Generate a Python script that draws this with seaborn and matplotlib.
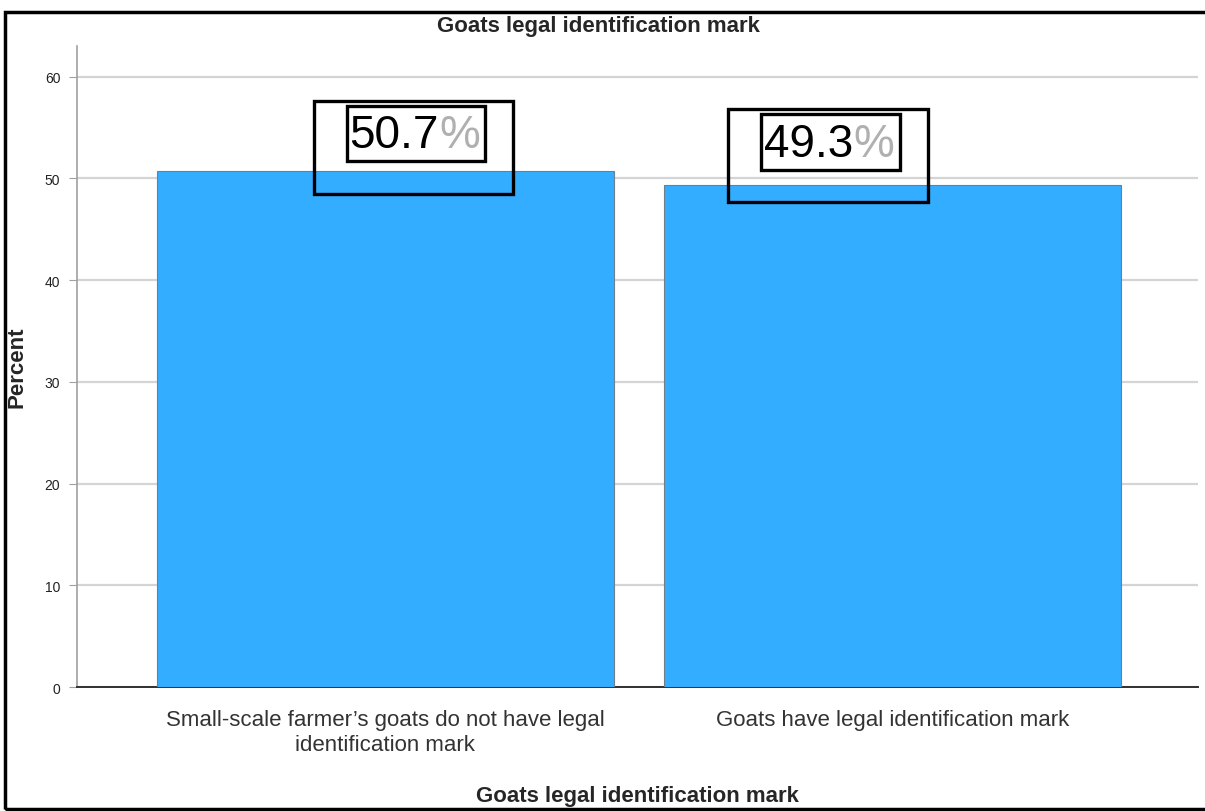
import matplotlib
matplotlib.use("Agg")
import matplotlib.pyplot as plt
from matplotlib.patches import Rectangle
import seaborn as sns
import pandas as pd

categories = ["Small-scale farmer\u2019s goats do not have legal\nidentification mark",
              "Goats have legal identification mark"]
percents = [50.7, 49.3]
value_labels = ["50.7", "49.3"]
title = "Goats legal identification mark"

# box positions around the value labels (data coords): x0, x1, y0, y1
outer_boxes = [(-0.141, 0.251, 48.5, 57.6), (0.676, 1.069, 47.7, 56.85)]
inner_boxes = [(-0.076, 0.196, 51.7, 57.15), (0.740, 1.014, 50.85, 56.35)]

sns.set_style("white")
plt.rcParams["font.family"] = ["Liberation Sans", "DejaVu Sans"]

df = pd.DataFrame({"cat": categories, "pct": percents})

fig = plt.figure(figsize=(12.05, 8.12), dpi=100)
ax = fig.add_axes([0.0639, 0.1527, 0.93, 0.7894])

sns.barplot(data=df, x="cat", y="pct", color="#33adff", saturation=1,
            width=0.9, edgecolor="#6b7f8c", linewidth=0.8, ax=ax, zorder=3)

ax.set_ylim(0, 63)
ax.set_xlim(-0.607, 1.6)
ax.set_yticks(range(0, 61, 10))
ax.yaxis.grid(True, color="#d4d4d4", linewidth=1.6, zorder=0)
ax.set_axisbelow(True)
for s in ["top", "right"]:
    ax.spines[s].set_visible(False)
ax.spines["left"].set_color("#a0a0a0")
ax.spines["left"].set_linewidth(1.2)
ax.spines["bottom"].set_color("#303030")
ax.spines["bottom"].set_linewidth(1.4)
ax.tick_params(axis="y", left=True, length=6, width=0.8, color="#a0a0a0",
               labelsize=10, labelcolor="#222222", pad=6)
ax.tick_params(axis="x", bottom=False, labelsize=16, labelcolor="#333333", pad=12)
for lbl in ax.get_xticklabels():
    lbl.set_linespacing(1.25)

ax.set_xlabel(title, fontsize=16, fontweight="bold", labelpad=22)
ax.set_ylabel("Percent", fontsize=16, fontweight="bold")
ax.yaxis.set_label_coords(-0.044, 0.5)
fig.text(0.497, 0.967, title, fontsize=16, fontweight="bold", ha="center", va="center")

for i, (lab, ob, ib) in enumerate(zip(value_labels, outer_boxes, inner_boxes)):
    ax.add_patch(Rectangle((ob[0], ob[2]), ob[1] - ob[0], ob[3] - ob[2],
                           fill=False, edgecolor="black", linewidth=2.4, zorder=6))
    ax.add_patch(Rectangle((ib[0], ib[2]), ib[1] - ib[0], ib[3] - ib[2],
                           facecolor="white", edgecolor="black", linewidth=2.4, zorder=5))
    t = ax.text(ib[0] + 0.006, ib[2] + 0.35, lab, fontsize=33, color="black",
                ha="left", va="bottom", zorder=7)
    ax.annotate("%", xy=(1, 0), xycoords=t, ha="left", va="bottom",
                fontsize=33, color="#b0b0b0", zorder=7)

# outer frame
fig.add_artist(Rectangle((0.004, 0.003), 1.2, 0.981, transform=fig.transFigure,
                         fill=False, edgecolor="black", linewidth=2.5))

fig.savefig("out.png", dpi=100)
